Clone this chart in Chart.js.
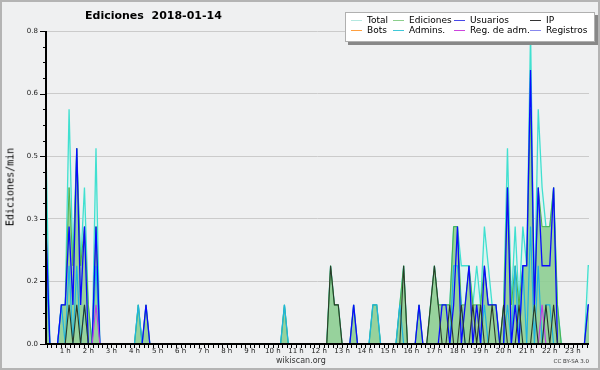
<!DOCTYPE html>
<html>
<head>
<meta charset="utf-8">
<script src="https://cdn.jsdelivr.net/npm/chart.js@4"></script>
<style>
  body { margin: 0; background: #fff; }
  #wrap { position: relative; width: 600px; height: 370px; background: #eff0f1; overflow: hidden; font-family: "DejaVu Sans", sans-serif; }
  #wrap canvas { position: absolute; left: 0; top: 0; }
  .frame { position: absolute; left: 0; top: 0; width: 600px; height: 370px; box-sizing: border-box; border: 2px solid #b4b4b4; pointer-events: none; }
  .title { position: absolute; left: 85px; top: 9px; font: bold 11px "DejaVu Sans", sans-serif; color: #000; white-space: pre; }
  .ytitle { position: absolute; left: 10px; top: 187px; transform: translate(-50%, -50%) rotate(-90deg); font: 10px "DejaVu Sans Mono", monospace; color: #000; white-space: nowrap; }
  .legend { position: absolute; left: 345px; top: 12px; width: 250px; height: 30px; box-sizing: border-box; background: #fff; border: 1px solid #b0b0b0; box-shadow: 3px 3px 0 #888; font: 9px "DejaVu Sans", sans-serif; color: #000; }
  .legend .sw { position: absolute; width: 11px; height: 1px; }
  .legend .lb { position: absolute; line-height: 10px; white-space: nowrap; }
  .foot { position: absolute; font-family: "DejaVu Sans", sans-serif; color: #333; white-space: nowrap; }
</style>
</head>
<body>
<div id="wrap">
  <canvas id="chart" width="600" height="370"></canvas>
  <div class="title">Ediciones  2018-01-14</div>
  <div class="ytitle">Ediciones/min</div>
  <div class="legend" id="legend"></div>
  <div class="foot" style="left:276px; top:356px; font-size:8px;">wikiscan.org</div>
  <div class="foot" style="right:11px; top:358px; font-size:5.5px;">CC BY-SA 3.0</div>
  <div class="frame"></div>
</div>
<script>
// 10 minute bins over the day (minutes since 00:00)
const binMinutes = Array.from({ length: 144 }, (_, i) => i * 10);

// edits per minute, one row = 2 hours
const total = [
  0, .5, 0, 0, 0, .1, .1, .6, .2, .5, .2, .4,
  .1, 0, .5, 0, 0, 0, 0, 0, 0, 0, 0, 0,
  0, .1, 0, .1, 0, 0, 0, 0, 0, 0, 0, 0,
  0, 0, 0, 0, 0, 0, 0, 0, 0, 0, 0, 0,
  0, 0, 0, 0, 0, 0, 0, 0, 0, 0, 0, 0,
  0, 0, 0, .1, 0, 0, 0, 0, 0, 0, 0, 0,
  0, 0, 0, .2, .1, .1, 0, 0, 0, .1, 0, 0,
  0, 0, .1, .1, 0, 0, 0, 0, 0, .1, .2, 0,
  0, 0, .1, 0, 0, .1, .2, .1, .1, .1, .1, .3,
  .3, .2, .2, .2, .1, .2, .1, .3, .2, .1, .1, 0,
  .1, .5, .1, .3, .1, .3, .2, .8, .1, .6, .4, .3,
  .3, .4, .1, 0, 0, 0, 0, 0, 0, 0, .2, .2
];
const ediciones = [
  0, .3, 0, 0, 0, .1, .1, .4, .2, .5, .2, .3,
  .1, 0, .3, 0, 0, 0, 0, 0, 0, 0, 0, 0,
  0, .1, 0, .1, 0, 0, 0, 0, 0, 0, 0, 0,
  0, 0, 0, 0, 0, 0, 0, 0, 0, 0, 0, 0,
  0, 0, 0, 0, 0, 0, 0, 0, 0, 0, 0, 0,
  0, 0, 0, .1, 0, 0, 0, 0, 0, 0, 0, 0,
  0, 0, 0, .2, .1, .1, 0, 0, 0, .1, 0, 0,
  0, 0, .1, .1, 0, 0, 0, 0, 0, .1, .2, 0,
  0, 0, .1, 0, 0, .1, .2, .1, .1, .1, .1, .3,
  .3, .1, .1, .2, .1, .1, .1, .2, .1, .1, .1, 0,
  .1, .4, .1, .2, .1, .2, .2, .6, .1, .4, .3, .3,
  .3, .4, .1, 0, 0, 0, 0, 0, 0, 0, .1, .1
];
const usuarios = [
  0, .3, 0, 0, 0, .1, .1, .3, .1, .5, .1, .3,
  0, 0, .3, 0, 0, 0, 0, 0, 0, 0, 0, 0,
  0, 0, 0, .1, 0, 0, 0, 0, 0, 0, 0, 0,
  0, 0, 0, 0, 0, 0, 0, 0, 0, 0, 0, 0,
  0, 0, 0, 0, 0, 0, 0, 0, 0, 0, 0, 0,
  0, 0, 0, 0, 0, 0, 0, 0, 0, 0, 0, 0,
  0, 0, 0, 0, 0, 0, 0, 0, 0, .1, 0, 0,
  0, 0, 0, 0, 0, 0, 0, 0, 0, 0, 0, 0,
  0, 0, .1, 0, 0, 0, 0, 0, .1, .1, 0, .1,
  .3, 0, .1, .2, 0, .1, 0, .2, .1, .1, .1, 0,
  0, .4, 0, .1, 0, .2, .2, .7, .1, .4, .2, .2,
  .2, .4, 0, 0, 0, 0, 0, 0, 0, 0, .1, .1
];
const ip = [
  0, 0, 0, 0, 0, 0, 0, .1, 0, .1, 0, .1,
  0, 0, 0, 0, 0, 0, 0, 0, 0, 0, 0, 0,
  0, 0, 0, 0, 0, 0, 0, 0, 0, 0, 0, 0,
  0, 0, 0, 0, 0, 0, 0, 0, 0, 0, 0, 0,
  0, 0, 0, 0, 0, 0, 0, 0, 0, 0, 0, 0,
  0, 0, 0, 0, 0, 0, 0, 0, 0, 0, 0, 0,
  0, 0, 0, .2, .1, .1, 0, 0, 0, 0, 0, 0,
  0, 0, 0, 0, 0, 0, 0, 0, 0, 0, .2, 0,
  0, 0, 0, 0, 0, .1, .2, .1, 0, 0, .1, 0,
  0, .1, 0, 0, .1, 0, .1, 0, 0, .1, 0, 0,
  .1, 0, 0, 0, .1, 0, 0, 0, .1, 0, 0, .1,
  0, .1, 0, 0, 0, 0, 0, 0, 0, 0, 0, 0
];
const admins = [
  0, .2, 0, 0, 0, .1, 0, .2, 0, .2, 0, .1,
  0, 0, .2, 0, 0, 0, 0, 0, 0, 0, 0, 0,
  0, .1, 0, 0, 0, 0, 0, 0, 0, 0, 0, 0,
  0, 0, 0, 0, 0, 0, 0, 0, 0, 0, 0, 0,
  0, 0, 0, 0, 0, 0, 0, 0, 0, 0, 0, 0,
  0, 0, 0, .1, 0, 0, 0, 0, 0, 0, 0, 0,
  0, 0, 0, 0, 0, 0, 0, 0, 0, 0, 0, 0,
  0, 0, .1, .1, 0, 0, 0, 0, 0, .1, 0, 0,
  0, 0, 0, 0, 0, 0, 0, 0, 0, 0, 0, .2,
  .2, .1, 0, 0, 0, 0, 0, .1, 0, 0, 0, 0,
  0, .1, 0, .2, 0, .2, 0, .3, 0, .2, 0, .1,
  .1, 0, 0, 0, 0, 0, 0, 0, 0, 0, 0, 0
];
const regAdm = [
  0, 0, 0, 0, 0, 0, 0, 0, 0, 0, 0, 0,
  0, 0, .1, 0, 0, 0, 0, 0, 0, 0, 0, 0,
  0, 0, 0, 0, 0, 0, 0, 0, 0, 0, 0, 0,
  0, 0, 0, 0, 0, 0, 0, 0, 0, 0, 0, 0,
  0, 0, 0, 0, 0, 0, 0, 0, 0, 0, 0, 0,
  0, 0, 0, 0, 0, 0, 0, 0, 0, 0, 0, 0,
  0, 0, 0, 0, 0, 0, 0, 0, 0, 0, 0, 0,
  0, 0, 0, 0, 0, 0, 0, 0, 0, 0, 0, 0,
  0, 0, 0, 0, 0, 0, 0, 0, 0, 0, 0, 0,
  0, 0, 0, 0, 0, 0, 0, 0, 0, 0, 0, 0,
  0, 0, 0, 0, 0, 0, 0, 0, 0, 0, .1, 0,
  0, 0, 0, 0, 0, 0, 0, 0, 0, 0, 0, 0
];
const bots = [];
const registros = [];

const legendItems = [
  { label: "Total", color: "#b4e8e0" },
  { label: "Ediciones", color: "#8ccf8c" },
  { label: "Usuarios", color: "#4848e8" },
  { label: "IP", color: "#333333" },
  { label: "Bots", color: "#ffa040" },
  { label: "Admins.", color: "#40c8d8" },
  { label: "Reg. de adm.", color: "#cc44dd" },
  { label: "Registros", color: "#8888ee" }
];

const yMajorStep = 0.16;
const isMajorY = (v) => Math.abs(v / yMajorStep - Math.round(v / yMajorStep)) < 1e-6;

function toPoints(values) {
    return values.map((v, i) => ({ x: binMinutes[i], y: v }));
}

function lineSet(label, values, color, width, order, extra) {
    return Object.assign({
        label: label,
        data: toPoints(values),
        borderColor: color,
        borderWidth: width,
        pointRadius: 0,
        tension: 0,
        fill: false,
        order: order
    }, extra || {});
}

// Legend box (2 rows x 4 columns)
function renderLegend() {
    const box = document.getElementById("legend");
    const swX = [5, 47, 108, 184];
    const lbX = [21, 63, 124, 200];
    legendItems.forEach((item, i) => {
        const col = i % 4;
        const row = Math.floor(i / 4);
        const top = 7 + row * 10;
        box.innerHTML += `<div class="sw" style="left:${swX[col]}px; top:${top}px; background:${item.color}"></div>` +
            `<div class="lb" style="left:${lbX[col]}px; top:${top - 5}px">${item.label}</div>`;
    });
}

// Axis lines and tick marks drawn over the data
const axisPlugin = {
    id: "axisLines",
    afterDatasetsDraw(chart) {
        const { ctx, chartArea: a, scales } = chart;
        const x = scales.x;
        const y = scales.y;
        ctx.save();
        ctx.strokeStyle = "#000";
        ctx.lineWidth = 1;
        ctx.beginPath();
        y.ticks.forEach((t) => {
            const py = Math.round(y.getPixelForValue(t.value)) + 0.5;
            const len = isMajorY(t.value) ? 6 : 3;
            ctx.moveTo(a.left - len, py);
            ctx.lineTo(a.left, py);
        });
        x.ticks.forEach((t) => {
            const px = Math.round(x.getPixelForValue(t.value)) + 0.5;
            ctx.moveTo(px, a.bottom);
            ctx.lineTo(px, a.bottom + 4);
        });
        ctx.stroke();
        ctx.lineWidth = 2;
        ctx.beginPath();
        ctx.moveTo(a.left, a.top);
        ctx.lineTo(a.left, a.bottom);
        ctx.lineTo(a.right, a.bottom);
        ctx.stroke();
        ctx.restore();
    }
};

function renderChart() {
    const ctx = document.getElementById("chart").getContext("2d");
    new Chart(ctx, {
        type: "line",
        data: {
            datasets: [
                lineSet("Total", total, "#40e0d0", 1.3, 10, { fill: "origin", backgroundColor: "rgba(215,244,238,0.7)" }),
                lineSet("Ediciones", ediciones, "#4cb04c", 1, 9, { fill: "origin", backgroundColor: "rgba(120,195,120,0.7)" }),
                lineSet("Admins.", admins, "#20b4e0", 1.2, 8),
                lineSet("Registros", registros, "#8080ff", 1, 7),
                lineSet("Bots", bots, "#ff9933", 1, 6),
                lineSet("Usuarios", usuarios, "#0a0aff", 1.3, 5),
                lineSet("Reg. de adm.", regAdm, "#c040e0", 1.2, 4),
                lineSet("IP", ip, "#2a3a2a", 1.1, 3)
            ]
        },
        options: {
            responsive: false,
            animation: false,
            devicePixelRatio: 1,
            layout: { padding: { top: 31, right: 11, left: 0, bottom: 0 } },
            plugins: { legend: { display: false }, tooltip: { enabled: false }, title: { display: false } },
            scales: {
                x: {
                    type: "linear",
                    min: 10,
                    max: 1422,
                    afterFit: (scale) => { scale.height = 26; },
                    border: { display: false },
                    grid: { drawOnChartArea: false, drawTicks: false },
                    ticks: {
                        stepSize: 12,
                        includeBounds: false,
                        autoSkip: false,
                        maxRotation: 0,
                        padding: 3,
                        color: "#222",
                        font: { family: "DejaVu Sans", size: 7 },
                        callback: (v) => (v % 60 === 0 ? (v / 60) + " h" : "")
                    }
                },
                y: {
                    min: 0,
                    max: 0.8,
                    afterFit: (scale) => { scale.width = 46; },
                    border: { display: false },
                    grid: {
                        drawTicks: false,
                        color: (c) => (c.tick && isMajorY(c.tick.value) && c.tick.value > 0 ? "#cbcbcb" : "rgba(0,0,0,0)")
                    },
                    ticks: {
                        stepSize: 0.04,
                        autoSkip: false,
                        padding: 8,
                        color: "#222",
                        font: { family: "DejaVu Sans", size: 7 },
                        callback: (v) => (isMajorY(v) ? v.toFixed(1) : "")
                    }
                }
            }
        },
        plugins: [axisPlugin]
    });
}

document.addEventListener("DOMContentLoaded", () => {
    renderLegend();
    renderChart();
});
</script>
</body>
</html>
